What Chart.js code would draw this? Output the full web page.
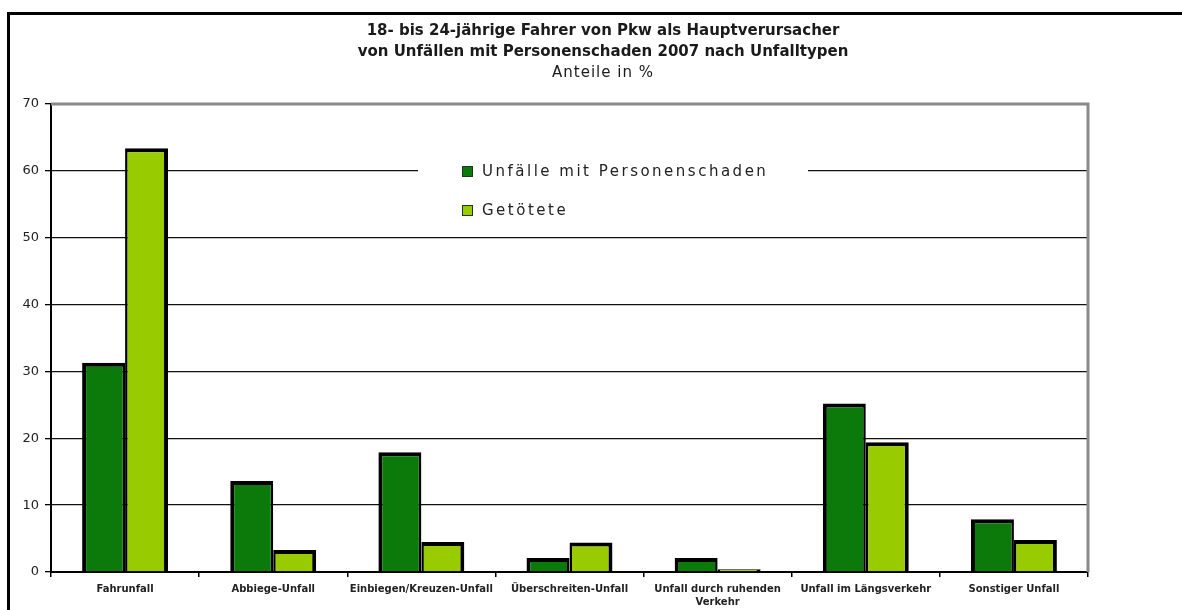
<!DOCTYPE html>
<html><head><meta charset="utf-8">
<script src="https://cdn.jsdelivr.net/npm/chart.js@4"></script>
<style>html,body{margin:0;padding:0;background:#fff;overflow:hidden}#wrap{width:1182px;height:610px;position:relative}</style>
</head><body><div id="wrap"><canvas id="c" width="1182" height="610"></canvas></div>
<script>
const titleLines = ['18- bis 24-jährige Fahrer von Pkw als Hauptverursacher', 'von Unfällen mit Personenschaden 2007 nach Unfalltypen'];
const subtitleText = 'Anteile in %';
const categories = ['Fahrunfall', 'Abbiege-Unfall', 'Einbiegen/Kreuzen-Unfall', 'Überschreiten-Unfall', ['Unfall durch ruhenden', 'Verkehr'], 'Unfall im Längsverkehr', 'Sonstiger Unfall'];
const seriesNames = ['Unfälle mit Personenschaden', 'Getötete'];
const unfaelle = [31.3, 13.6, 17.9, 2.1, 2.1, 25.2, 7.9];
const getoetete = [63.4, 3.3, 4.5, 4.4, 0.4, 19.4, 4.8];
const yTicks = [0, 10, 20, 30, 40, 50, 60, 70];
const colors = ['#0b7a0b', '#99cc00'];

Chart.defaults.font.family = '"DejaVu Sans", sans-serif';

const decor = {
  id: 'decor',
  beforeDraw(chart) {
    const ctx = chart.ctx;
    ctx.save();
    ctx.fillStyle = '#fff';
    ctx.fillRect(0, 0, chart.width, chart.height);
    ctx.fillStyle = '#000';
    ctx.fillRect(7, 12, chart.width - 7, 3);
    ctx.fillRect(7, 12, 3, chart.height - 12);
    ctx.fillStyle = '#1a1a1a';
    ctx.textAlign = 'center';
    ctx.textBaseline = 'middle';
    ctx.font = 'bold 15px "DejaVu Sans"';
    titleLines.forEach((t, i) => ctx.fillText(t, 603, 31 + i * 21));
    ctx.font = '15px "DejaVu Sans"';
    if ('letterSpacing' in ctx) ctx.letterSpacing = '1px';
    ctx.fillText(subtitleText, 603, 73);
    ctx.restore();
  },
  beforeDatasetsDraw(chart) {
    const ctx = chart.ctx;
    const a = chart.chartArea;
    ctx.save();
    ctx.strokeStyle = '#8a8a8a';
    ctx.lineWidth = 3;
    ctx.beginPath();
    ctx.moveTo(a.left, a.top);
    ctx.lineTo(a.right, a.top);
    ctx.lineTo(a.right, a.bottom);
    ctx.stroke();
    ctx.restore();
  },
  afterDatasetsDraw(chart) {
    const ctx = chart.ctx;
    ctx.save();
    ctx.fillStyle = '#fff';
    ctx.fillRect(418, 150, 390, 78);
    ctx.font = '15px "DejaVu Sans"';
    if ('letterSpacing' in ctx) ctx.letterSpacing = '2.5px';
    ctx.textAlign = 'left';
    ctx.textBaseline = 'middle';
    chart.data.datasets.forEach((ds, i) => {
      const cy = 172 + i * 39;
      ctx.fillStyle = ds.backgroundColor;
      ctx.fillRect(462, cy - 6, 11, 11);
      ctx.strokeStyle = '#1a3a1a';
      ctx.lineWidth = 1;
      ctx.strokeRect(462.5, cy - 5.5, 10, 10);
      ctx.fillStyle = '#222';
      ctx.fillText(ds.label, 482, cy);
    });
    ctx.restore();
  }
};

new Chart(document.getElementById('c'), {
  type: 'bar',
  data: {
    labels: categories,
    datasets: [
      { label: seriesNames[0], data: unfaelle, backgroundColor: colors[0], borderColor: '#000',
        borderWidth: { left: 4, top: 4, right: 2.5, bottom: 0 }, borderSkipped: 'bottom' },
      { label: seriesNames[1], data: getoetete, backgroundColor: colors[1], borderColor: '#000',
        borderWidth: { left: 2.5, top: 4, right: 4, bottom: 0 }, borderSkipped: 'bottom' }
    ]
  },
  options: {
    responsive: false,
    devicePixelRatio: 1,
    animation: false,
    categoryPercentage: 0.58,
    barPercentage: 1,
    layout: { padding: { left: 0, right: 94, top: 104, bottom: 0 } },
    plugins: { legend: { display: false }, title: { display: false }, tooltip: { enabled: false } },
    scales: {
      x: {
        grid: { display: true, drawOnChartArea: false, drawTicks: true, tickLength: 5, offset: true, color: '#000', lineWidth: 1.5 },
        border: { display: true, color: '#000', width: 2 },
        ticks: { font: { size: 10, weight: 'bold', lineHeight: 1.3 }, color: '#222', padding: 6, maxRotation: 0, minRotation: 0, autoSkip: false },
        afterFit(s) { s.height = 38; }
      },
      y: {
        min: 0, max: 70,
        afterBuildTicks(s) { s.ticks = yTicks.map(v => ({ value: v })); },
        grid: { color: c => (c.tick && c.tick.value === 70) ? 'rgba(0,0,0,0)' : '#111', lineWidth: 1.3, tickLength: 6, tickColor: '#000', drawTicks: true },
        border: { display: true, color: '#000', width: 2 },
        ticks: { font: { size: 13 }, color: '#222', padding: 6 },
        afterFit(s) { s.width = 51; }
      }
    }
  },
  plugins: [decor]
});
</script>
</body></html>
